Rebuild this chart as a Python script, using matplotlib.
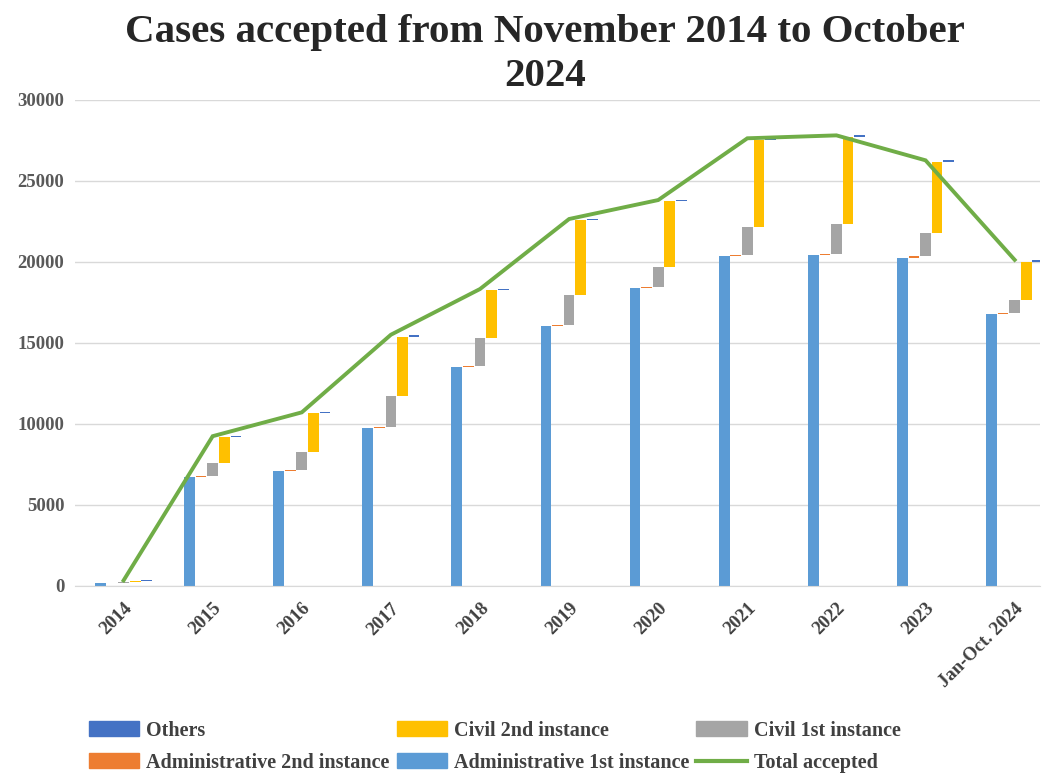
import matplotlib.pyplot as plt
import numpy as np
from matplotlib.patches import Patch
from matplotlib.lines import Line2D

plt.rcParams['font.family'] = ['Liberation Serif', 'DejaVu Serif']

# Data
years = ['2014', '2015', '2016', '2017', '2018', '2019', '2020', '2021', '2022', '2023', 'Jan-Oct. 2024']
admin1 = [180, 6720, 7080, 9750, 13500, 16040, 18390, 20360, 20420, 20250, 16780]
admin2 = [20, 60, 50, 60, 60, 40, 60, 70, 80, 120, 60]
civil1 = [40, 800, 1140, 1900, 1740, 1870, 1230, 1720, 1830, 1410, 810]
civil2 = [80, 1600, 2400, 3640, 2960, 4630, 4070, 5370, 5370, 4380, 2350]
others = [20, 60, 40, 150, 60, 60, 60, 100, 100, 100, 120]

c_admin1 = '#5B9BD5'
c_admin2 = '#ED7D31'
c_civil1 = '#A5A5A5'
c_civil2 = '#FFC000'
c_others = '#4472C4'
c_total = '#70AD47'

x = np.arange(len(years))
a1 = np.array(admin1)
a2 = np.array(admin2)
c1 = np.array(civil1)
c2 = np.array(civil2)
ot = np.array(others)
total = a1 + a2 + c1 + c2 + ot

fig = plt.figure(figsize=(10.48, 7.73), dpi=100)
ax = fig.add_axes([0.072, 0.242, 0.92, 0.629])

w = 0.12
step = 0.13
# waterfall-style floating bars
ax.bar(x - 2 * step, a1, width=w, color=c_admin1, zorder=2)
ax.bar(x - step, a2, width=w, bottom=a1, color=c_admin2, zorder=2)
ax.bar(x, c1, width=w, bottom=a1 + a2, color=c_civil1, zorder=2)
ax.bar(x + step, c2, width=w, bottom=a1 + a2 + c1, color=c_civil2, zorder=2)
ax.bar(x + 2 * step, ot, width=w, bottom=a1 + a2 + c1 + c2, color=c_others, zorder=2)
ax.plot(x, total, color=c_total, lw=2.8, zorder=3, solid_joinstyle='miter')

ax.set_ylim(0, 30000)
ax.set_xlim(-0.54, 10.28)
ax.set_yticks(range(0, 30001, 5000))
ax.yaxis.grid(True, color='#D9D9D9', lw=1)
ax.set_axisbelow(True)
for s in ['top', 'right', 'left']:
    ax.spines[s].set_visible(False)
ax.spines['bottom'].set_color('#D9D9D9')
ax.tick_params(axis='both', length=0)
ax.tick_params(axis='y', labelsize=13.5, labelcolor='#595959', pad=8)
for t in ax.get_yticklabels():
    t.set_fontweight('bold')

ax.set_xticks(x)
ax.set_xticklabels(years, rotation=45, ha='right', rotation_mode='anchor',
                   fontsize=13.5, fontweight='bold', color='#404040')
ax.tick_params(axis='x', pad=10)

fig.text(0.52, 0.982, 'Cases accepted from November 2014 to October\n2024',
         ha='center', va='top', fontsize=29.5, fontweight='bold',
         color='#262626', linespacing=1.25)

handles = [
    Patch(color=c_others, label='Others'),
    Patch(color=c_admin2, label='Administrative 2nd instance'),
    Patch(color=c_civil2, label='Civil 2nd instance'),
    Patch(color=c_admin1, label='Administrative 1st instance'),
    Patch(color=c_civil1, label='Civil 1st instance'),
    Line2D([0], [0], color=c_total, lw=3, label='Total accepted'),
]
leg = fig.legend(handles=handles, ncol=3, loc='center',
                 bbox_to_anchor=(0.472, 0.034), frameon=False,
                 prop={'size': 14.5, 'weight': 'bold'},
                 handlelength=2.5, handleheight=0.75, columnspacing=0.35,
                 handletextpad=0.35, labelspacing=0.6)
for t in leg.get_texts():
    t.set_color('#404040')

plt.savefig('out.png', dpi=100)
